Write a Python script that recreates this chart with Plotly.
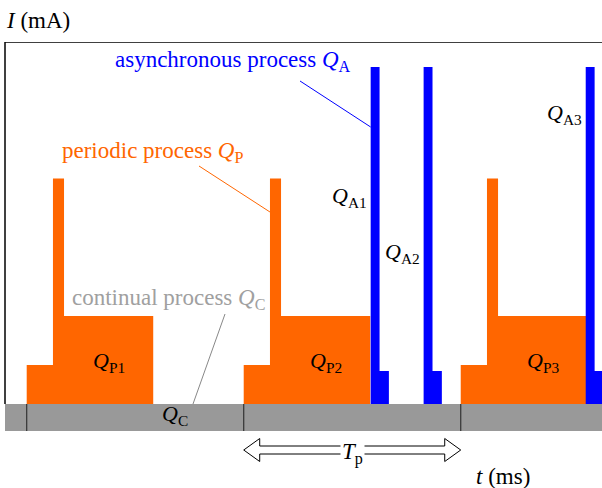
import plotly.graph_objects as go

# ---------------- data ----------------
period_starts = [1.0, 11.0, 21.0]            # ms, start of each periodic pulse (period T_p = 10)
period_names = ["P1", "P2", "P3"]
Q_C_level = 2.7                               # mA, continual process current
P_step_times = [0.0, 1.21, 1.72, 5.83]        # ms relative to period start
P_step_levels = [3.9, 22.55, 8.8]             # mA above Q_C: low step, spike, main block
A_starts = [16.85, 19.29, 26.76]              # ms, asynchronous pulse starts
A_names = ["A1", "A2", "A3"]
A_tall_width = 0.41                           # ms
A_low_width = 0.84                            # ms
A_tall_level = 33.7                           # mA above Q_C
A_low_level = 3.3                             # mA above Q_C
t_max = 27.51                                 # ms, visible time span

# ---------------- styling helpers ----------------
ORANGE = "#FF6600"
BLUE = "#0000FF"
GRAY = "#999999"
GRAY_TXT = "#A0A0A0"
FONT = "Liberation Serif, Times New Roman, serif"
FS = 23      # descriptive texts
FSL = 22     # Q labels

PXX = 21.7   # px per ms
PXY = 10.0   # px per mA
def xd(px):  # pixel -> data x
    return (px - 5) / PXX
def yd(py):  # pixel -> data y
    return (431 - py) / PXY

fig = go.Figure()

# continual process band
fig.add_trace(go.Scatter(
    x=[0, t_max + 1, t_max + 1, 0, 0], y=[0, 0, Q_C_level, Q_C_level, 0],
    fill="toself", fillcolor=GRAY, mode="lines", line=dict(width=0),
    hoverinfo="skip"))

# period tick marks in the band
for s in period_starts:
    fig.add_trace(go.Scatter(x=[s, s], y=[0, Q_C_level], mode="lines",
                             line=dict(color="#333333", width=1.2), hoverinfo="skip"))

# periodic process pulses
t0, t1, t2, t3 = P_step_times
l0, l1, l2 = P_step_levels
for s in period_starts:
    xs = [s + t0, s + t0, s + t1, s + t1, s + t2, s + t2, s + t3, s + t3, s + t0]
    ys = [Q_C_level, Q_C_level + l0, Q_C_level + l0, Q_C_level + l1, Q_C_level + l1,
          Q_C_level + l2, Q_C_level + l2, Q_C_level, Q_C_level]
    fig.add_trace(go.Scatter(x=xs, y=ys, fill="toself", fillcolor=ORANGE, mode="lines",
                             line=dict(width=0), hoverinfo="skip"))

# asynchronous process pulses
for s in A_starts:
    xs = [s, s, s + A_tall_width, s + A_tall_width, s + A_low_width, s + A_low_width, s]
    ys = [Q_C_level, Q_C_level + A_tall_level, Q_C_level + A_tall_level,
          Q_C_level + A_low_level, Q_C_level + A_low_level, Q_C_level, Q_C_level]
    fig.add_trace(go.Scatter(x=xs, y=ys, fill="toself", fillcolor=BLUE, mode="lines",
                             line=dict(width=0), hoverinfo="skip"))

# hollow double arrow for T_p
a0, a1 = period_starts[1], period_starts[2]
yc, H, b, h = yd(450), 1.15, 0.4, xd(21) - xd(5)
ax = [a0, a0 + h, a0 + h, a1 - h, a1 - h, a1, a1 - h, a1 - h, a0 + h, a0 + h, a0]
ay = [yc, yc + H, yc + b, yc + b, yc + H, yc, yc - H, yc - b, yc - b, yc - H, yc]
fig.add_trace(go.Scatter(x=ax, y=ay, fill="toself", fillcolor="white", mode="lines",
                         line=dict(color="black", width=1), hoverinfo="skip"))

# leader lines
leaders = [
    (xd(300), yd(81), A_starts[0], yd(127), BLUE),
    (xd(199), yd(166), period_starts[1] + t1, yd(212), ORANGE),
    (xd(225), yd(314), xd(193), Q_C_level, "#888888"),
]
for x0_, y0_, x1_, y1_, c in leaders:
    fig.add_trace(go.Scatter(x=[x0_, x1_], y=[y0_, y1_], mode="lines",
                             line=dict(color=c, width=1), hoverinfo="skip"))

# frame (left + top)
shapes = [
    dict(type="line", xref="paper", yref="y", x0=0, x1=0, y0=Q_C_level, y1=yd(42),
         line=dict(color="black", width=1.5)),
    dict(type="line", xref="paper", yref="y", x0=0, x1=1, y0=yd(42), y1=yd(42),
         line=dict(color="black", width=1.5)),
]

ann = []
def text(x, y, s, color="black", xanchor="left", bg=None, size=FS, ref="data"):
    if ref == "paper":
        d = dict(x=(x - 5) / 597, y=(488 - y) / 446, xref="paper", yref="paper")
    else:
        d = dict(x=xd(x) if ref == "px" else x, y=yd(y), xref="x", yref="y")
    d.update(text=s, showarrow=False, xanchor=xanchor, yanchor="middle",
             font=dict(family=FONT, size=size, color=color))
    if bg:
        d["bgcolor"] = bg
    ann.append(d)

text(4, 20, "<i>I</i> (mA)", ref="paper")
text(113, 61, "asynchronous process <i>Q</i><sub>A</sub>", BLUE, ref="px")
text(60, 152, "periodic process <i>Q</i><sub>P</sub>", ORANGE, ref="px")
text(70, 299, "continual process <i>Q</i><sub>C</sub>", GRAY_TXT, ref="px")
for s, n in zip(period_starts, period_names):
    text(s + (t2 + t3) / 2, 362, f"<i>Q</i><sub>{n}</sub>", xanchor="center", size=FSL)
A_label_y = [197, 253, 114]
for s, n, py in zip(A_starts, A_names, A_label_y):
    text(s - xd(5 + 2), py, f"<i>Q</i><sub>{n}</sub>", xanchor="right", size=FSL)
text(175, 415, "<i>Q</i><sub>C</sub>", xanchor="center", ref="px", size=FSL)
text((a0 + a1) / 2, 453, "<i>T</i><sub>p</sub>", xanchor="center", bg="white")
text(474, 476, "<i>t</i> (ms)", ref="px")

fig.update_layout(
    width=602, height=488,
    margin=dict(l=5, r=0, t=42, b=0),
    paper_bgcolor="white", plot_bgcolor="white",
    showlegend=False,
    xaxis=dict(range=[0, t_max], visible=False, fixedrange=True),
    yaxis=dict(range=[yd(488), yd(42)], visible=False, fixedrange=True),
    shapes=shapes, annotations=ann,
)

fig.write_html("out.html", post_script="document.body.style.margin='0';",
               config={"displayModeBar": False})
